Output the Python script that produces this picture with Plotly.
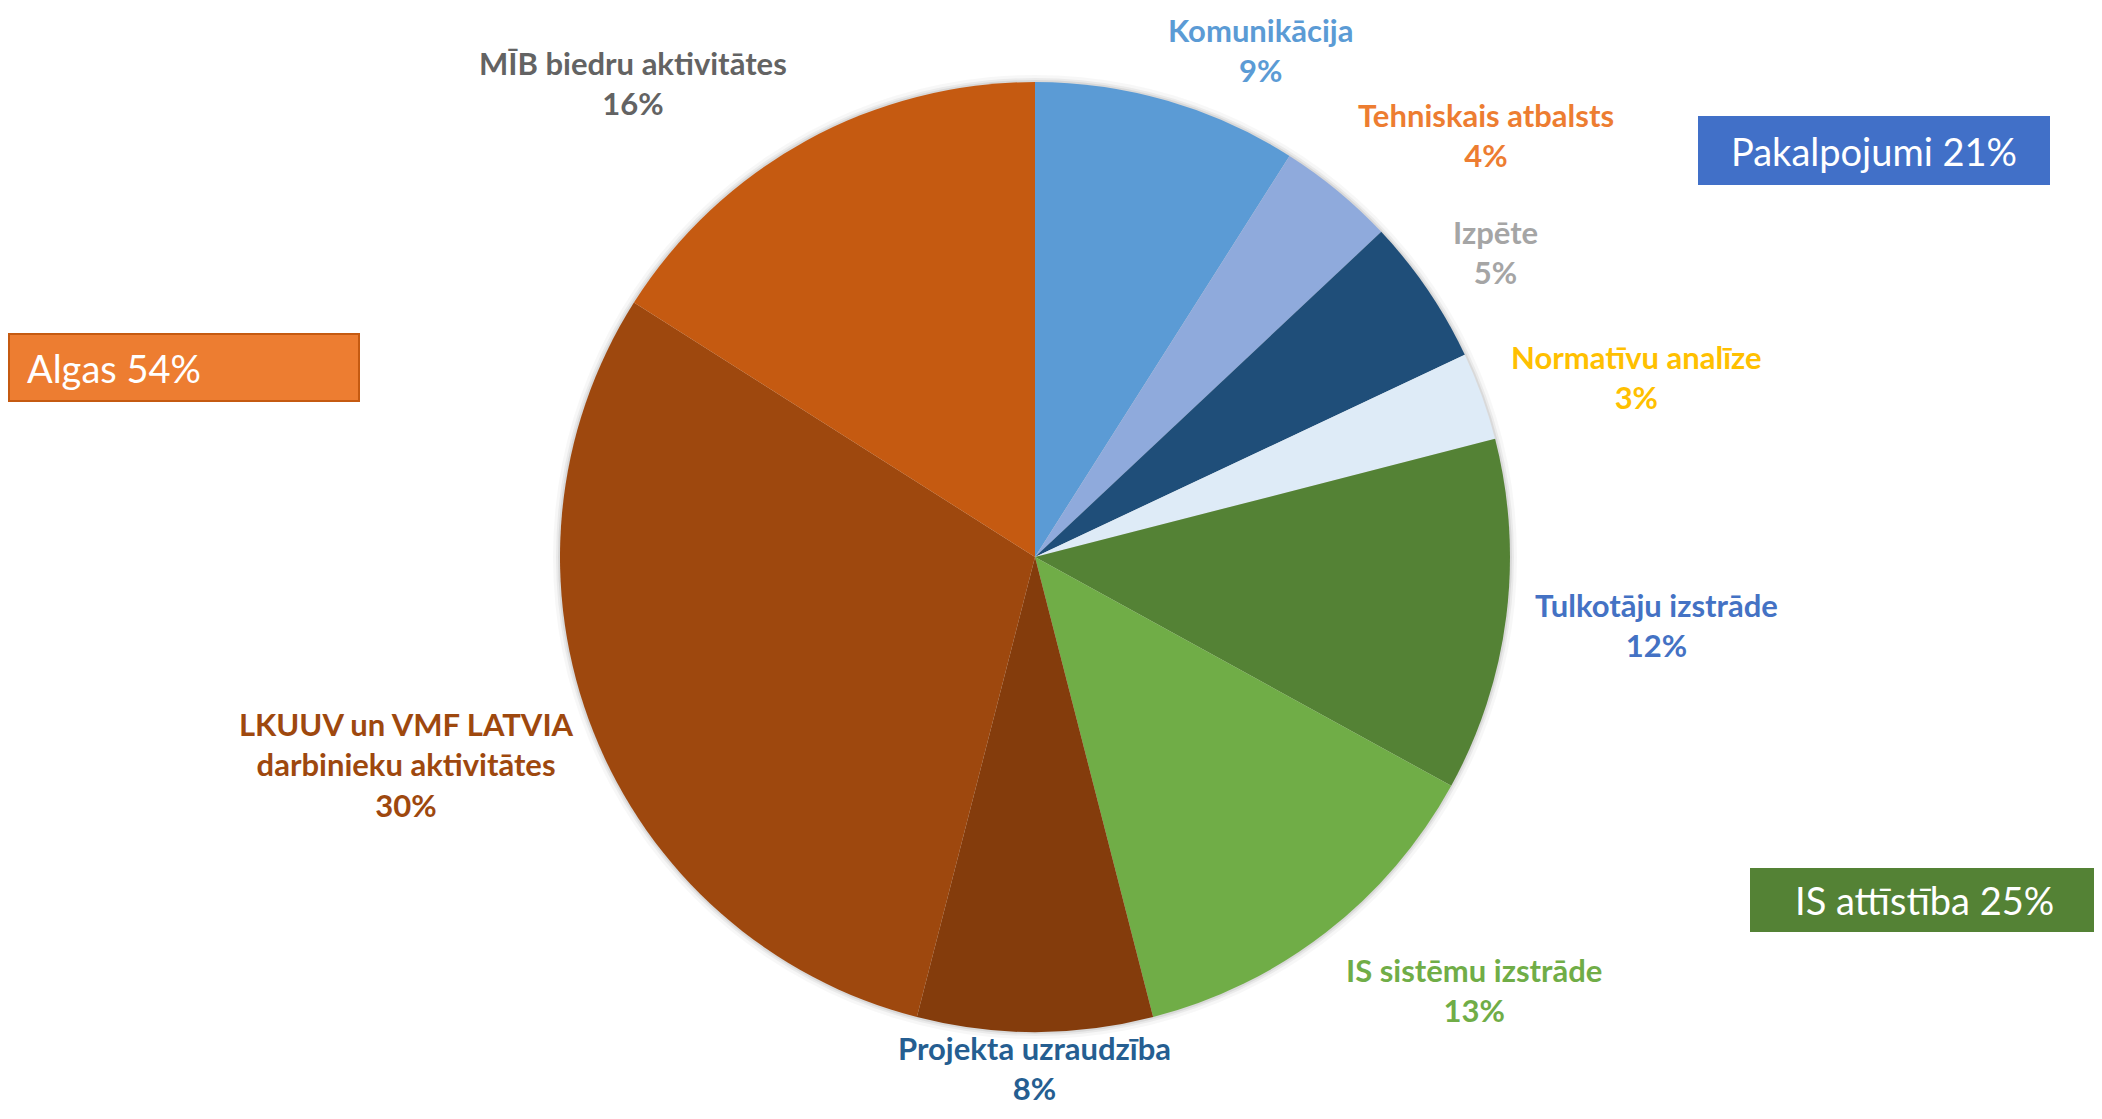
import plotly.graph_objects as go

PAGE_W, PAGE_H = 2102, 1119
OFF = 8                     # default body margin of the html page
W, H = PAGE_W - 2 * OFF, PAGE_H - 2 * OFF

# ---- data ----
categories = [
    "Komunikācija",
    "Tehniskais atbalsts",
    "Izpēte",
    "Normatīvu analīze",
    "Tulkotāju izstrāde",
    "IS sistēmu izstrāde",
    "Projekta uzraudzība",
    "LKUUV un VMF LATVIA darbinieku aktivitātes",
    "MĪB biedru aktivitātes",
]
values = [9, 4, 5, 3, 12, 13, 8, 30, 16]

group_labels = ["Pakalpojumi", "Algas", "IS attīstība"]
group_values = [21, 54, 25]

# ---- styles ----
slice_colors = ["#5B9BD5", "#8FAADC", "#1F4E79", "#DEEBF7", "#548235",
                "#70AD47", "#843C0C", "#9E480E", "#C55A11"]
label_colors = ["#5B9BD5", "#ED7D31", "#A5A5A5", "#FFC000", "#4472C4",
                "#70AD47", "#255E91", "#9E480E", "#636363"]
# label centre positions in page pixels (x, y from top)
label_pos = [(1260, 50), (1486, 135), (1495, 252), (1636, 377), (1656, 625),
             (1474, 990), (1034, 1068), (406, 764), (633, 83)]
wrapped = {"LKUUV un VMF LATVIA darbinieku aktivitātes":
           "LKUUV un VMF LATVIA<br>darbinieku aktivitātes"}

# group boxes: (x0, y0, x1, y1) page px, fill, border, text align
group_boxes = [
    ((1699, 117, 2049, 184), "#4170C8", "#4170C8", "center"),
    ((9, 334, 359, 401), "#ED7D31", "#C55A11", "left"),
    ((1751, 869, 2097, 931), "#548235", "#548235", "center"),
]

def px(x):
    return (x - OFF) / W

def py(y):
    return 1 - (y - OFF) / H

cx, cy, R = 1035, 557, 475

fig = go.Figure()
fig.add_trace(go.Pie(
    labels=categories,
    values=values,
    sort=False,
    direction="clockwise",
    rotation=0,
    marker=dict(colors=slice_colors, line=dict(width=0)),
    textinfo="none",
    hoverinfo="label+percent",
    showlegend=False,
    domain=dict(x=[px(cx - R), px(cx + R)], y=[py(cy + R), py(cy - R)]),
))

shapes = []
# soft shadow around pie
for d, a in [(7, 0.03), (4, 0.05), (2, 0.07)]:
    shapes.append(dict(type="circle", xref="paper", yref="paper",
                       x0=px(cx - R - d), x1=px(cx + R + d),
                       y0=py(cy + R + d), y1=py(cy - R - d),
                       fillcolor=f"rgba(0,0,0,{a})", line=dict(width=0),
                       layer="below"))

annotations = []
for cat, v, col, (lx, ly) in zip(categories, values, label_colors, label_pos):
    txt = wrapped.get(cat, cat)
    annotations.append(dict(
        x=px(lx), y=py(ly), xref="paper", yref="paper",
        text=f"<b>{txt}<br>{v}%</b>", showarrow=False,
        xanchor="center", yanchor="middle", align="center",
        font=dict(family="Lato, Open Sans, sans-serif", size=31, color=col),
    ))

for name, gv, ((x0, y0, x1, y1), fill, border, al) in zip(group_labels, group_values, group_boxes):
    shapes.append(dict(type="rect", xref="paper", yref="paper",
                       x0=px(x0), x1=px(x1), y0=py(y1), y1=py(y0),
                       fillcolor=fill, line=dict(color=border, width=2)))
    if al == "left":
        ax, anc = px(x0 + 16), "left"
    else:
        ax, anc = px((x0 + x1) / 2), "center"
    annotations.append(dict(
        x=ax, y=py((y0 + y1) / 2), xref="paper", yref="paper",
        text=f"{name} {gv}%", showarrow=False,
        xanchor=anc, yanchor="middle",
        font=dict(family="Lato, Open Sans, sans-serif", size=38, color="white"),
    ))

fig.update_layout(
    width=W, height=H,
    margin=dict(l=0, r=0, t=0, b=0),
    paper_bgcolor="white", plot_bgcolor="white",
    shapes=shapes, annotations=annotations,
)

fig.write_html("out.html")
